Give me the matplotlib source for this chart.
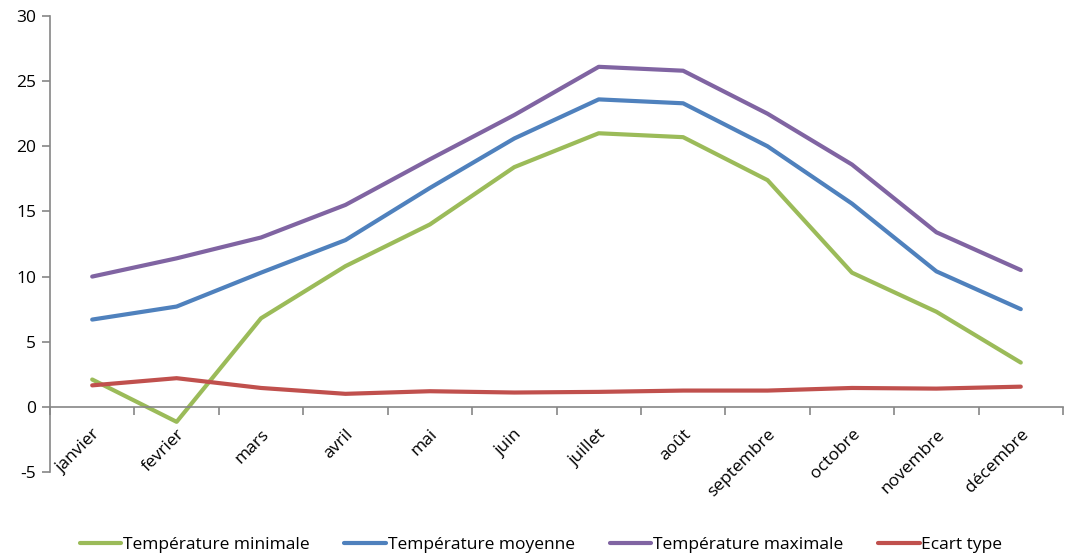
import matplotlib
matplotlib.use("Agg")
import matplotlib.pyplot as plt
import numpy as np

months = ["janvier", "fevrier", "mars", "avril", "mai", "juin", "juillet",
          "août", "septembre", "octobre", "novembre", "décembre"]
t_min = [2.1, -1.15, 6.8, 10.8, 14.0, 18.4, 21.0, 20.7, 17.4, 10.3, 7.3, 3.4]
t_moy = [6.7, 7.7, 10.3, 12.8, 16.8, 20.6, 23.6, 23.3, 20.0, 15.6, 10.4, 7.5]
t_max = [10.0, 11.4, 13.0, 15.5, 19.0, 22.4, 26.1, 25.8, 22.5, 18.6, 13.4, 10.5]
ecart = [1.65, 2.2, 1.45, 1.0, 1.2, 1.1, 1.15, 1.25, 1.25, 1.45, 1.4, 1.55]
series_names = ["Température minimale", "Température moyenne",
                "Température maximale", "Ecart type"]
yticks = [-5, 0, 5, 10, 15, 20, 25, 30]

colors = ["#9BBB59", "#4F81BD", "#8064A2", "#C0504D"]

plt.rcParams['font.family'] = ['Open Sans', 'DejaVu Sans']

fig = plt.figure(figsize=(10.65, 5.58), dpi=100)
ax = fig.add_axes([50/1065, 86/558, 1013/1065, 456/558])

x = np.arange(len(months))
for vals, name, c in zip([t_min, t_moy, t_max, ecart], series_names, colors):
    ax.plot(x, vals, color=c, lw=3, label=name, solid_capstyle='round',
            solid_joinstyle='round')

ax.set_xlim(-0.5, len(months) - 0.5)
ax.set_ylim(-5, 30)
ax.set_yticks(yticks)
ax.set_yticklabels([str(v) for v in yticks], fontsize=12.5)

for s in ["top", "right"]:
    ax.spines[s].set_visible(False)
ax.spines["bottom"].set_position(("data", 0))
for s in ["left", "bottom"]:
    ax.spines[s].set_color("#868686")
    ax.spines[s].set_linewidth(1.2)

# category ticks between categories
ax.set_xticks(np.arange(-0.5, len(months) + 0.5, 1), minor=False)
ax.set_xticklabels([])
ax.tick_params(axis='x', which='major', direction='out', length=6, color="#868686", width=1.2)
ax.set_xticks(x, minor=True)
ax.set_xticklabels(months, minor=True, rotation=45, ha='right', va='top',
                   rotation_mode='anchor', fontsize=12.5)
ax.tick_params(axis='x', which='minor', length=0, pad=14)
ax.tick_params(axis='y', direction='out', length=6, color="#868686", width=1.2, pad=4)

ax.legend(loc='center', bbox_to_anchor=(541/1065 - 50/1065, 0), ncol=4, frameon=False,
          fontsize=12.5, handlelength=2.4, handletextpad=0.1, columnspacing=2.0,
          bbox_transform=fig.transFigure)
leg = ax.get_legend()
leg.set_bbox_to_anchor((541/1065, 13/558), transform=fig.transFigure)

fig.savefig("out.png", dpi=100)
